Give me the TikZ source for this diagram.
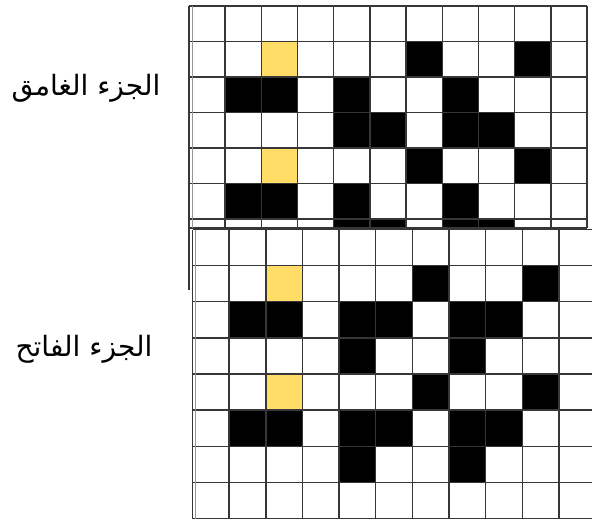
\documentclass[tikz,border=0pt]{standalone}
\usepackage{fontspec}
\newfontfamily\arabicfont[Script=Arabic]{DejaVu Sans}
\TeXXeTstate=1
\definecolor{cellyellow}{RGB}{255,221,102}
\definecolor{gridline}{RGB}{55,55,55}
\definecolor{gridlight}{RGB}{150,150,150}
\tikzset{
  gridstroke/.style={draw=gridline,line width=1.4pt},
  gridthin/.style={draw=gridlight,line width=0.9pt},
  blackcell/.style={fill=black},
  yellowcell/.style={fill=cellyellow},
  labeltext/.style={font=\arabicfont\fontsize{28}{32}\selectfont,text=black,inner sep=0pt}
}
\begin{document}
\begin{tikzpicture}[x=1pt,y=-1pt]
\useasboundingbox (0,0) rectangle (592,520);
\begin{scope}
\clip (0,0) rectangle (592,520);
% ---------- top grid (dark part) ----------
\def\tx{189}\def\tw{36.18}\def\ty{6}\def\th{35.5}
\fill[white] (\tx,\ty) rectangle (587,228);
\begin{scope}
\clip (\tx,\ty) rectangle (587,228);
\foreach \c/\r in {6/1,9/1,1/2,2/2,4/2,7/2,4/3,5/3,7/3,8/3,6/4,9/4,1/5,2/5,4/5,7/5,4/6,5/6,7/6,8/6}
  \fill[blackcell] ({\tx+\c*\tw},{\ty+\r*\th}) rectangle ++(\tw,\th);
\foreach \c/\r in {2/1,2/4}
  \fill[yellowcell] ({\tx+\c*\tw},{\ty+\r*\th}) rectangle ++(\tw,\th);
\end{scope}
\foreach \i in {1,...,10}
  \draw[gridstroke] ({\tx+\i*\tw},\ty) -- ({\tx+\i*\tw},228);
\foreach \j in {0,...,6}
  \draw[gridstroke] (\tx,{\ty+\j*\th}) -- (587,{\ty+\j*\th});
\draw[gridstroke] (\tx,228) -- (587,228);
\draw[gridstroke] (587,\ty) -- (587,228);
\draw[gridstroke] (\tx,\ty) -- (\tx,290);
\draw[gridthin] (192.2,\ty) -- (192.2,228);
% ---------- bottom grid (light part) ----------
\def\bx{192.5}\def\bw{36.65}\def\by{229.5}\def\bh{36.125}
\fill[white] (\bx,\by) rectangle (600,518.5);
\foreach \c/\r in {6/1,9/1,1/2,2/2,4/2,5/2,7/2,8/2,4/3,7/3,6/4,9/4,1/5,2/5,4/5,5/5,7/5,8/5,4/6,7/6}
  \fill[blackcell] ({\bx+\c*\bw},{\by+\r*\bh}) rectangle ++(\bw,\bh);
\foreach \c/\r in {2/1,2/4}
  \fill[yellowcell] ({\bx+\c*\bw},{\by+\r*\bh}) rectangle ++(\bw,\bh);
\foreach \i in {0,...,10}
  \draw[gridstroke] ({\bx+\i*\bw},\by) -- ({\bx+\i*\bw},518.5);
\foreach \j in {0,...,8}
  \draw[gridstroke] (\bx,{\by+\j*\bh}) -- (600,{\by+\j*\bh});
\draw[gridthin] (195.8,\by) -- (195.8,518.5);
\end{scope}
% ---------- labels ----------
\node[labeltext] (darklabel) at (86,88) {\beginR الجزء الغامق\endR};
\node[labeltext] (lightlabel) at (84,349) {\beginR الجزء الفاتح\endR};
\end{tikzpicture}
\end{document}
